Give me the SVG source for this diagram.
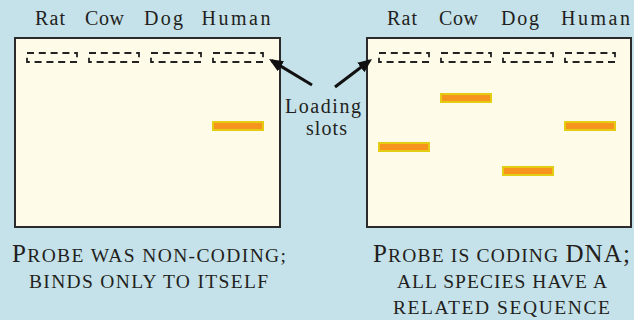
<svg xmlns="http://www.w3.org/2000/svg" width="634" height="320" viewBox="0 0 634 320">
<defs>
<style>
.bg{fill:#c5e2ea}
.gel{fill:#fffbe9;stroke:#2b2b2b;stroke-width:2}
.slot{fill:none;stroke:#222;stroke-width:1.8;stroke-dasharray:7 4.8}
.band{fill:#f7941d;stroke:#e3cc12;stroke-width:2}
text{font-family:'Liberation Serif',serif;fill:#231f20;text-anchor:middle}
.lbl{font-size:20px}
.cap{font-size:19.5px}
.big{font-size:25px}
.arrow{stroke:#111;stroke-width:3;fill:none;marker-end:url(#ah)}
</style>
<marker id="ah" markerUnits="userSpaceOnUse" markerWidth="15" markerHeight="13" refX="11" refY="6" orient="auto">
<path d="M0,0 L14,6 L0,12 z" fill="#111"/>
</marker>
</defs>
<rect class="bg" x="0" y="0" width="634" height="320"/>

<g id="gel-left">
<rect class="gel" x="15" y="38" width="265" height="189"/>
<rect class="slot" x="27" y="53" width="50" height="9"/>
<rect class="slot" x="89" y="53" width="50" height="9"/>
<rect class="slot" x="151" y="53" width="50" height="9"/>
<rect class="slot" x="213" y="53" width="50" height="9"/>
<rect class="band" x="213" y="122" width="50" height="8"/>
</g>
<g id="labels-left">
<text class="lbl" x="50" y="25" textLength="30">Rat</text>
<text class="lbl" x="104.5" y="25" textLength="39">Cow</text>
<text class="lbl" x="163.5" y="25" textLength="39">Dog</text>
<text class="lbl" x="236" y="25" textLength="69">Human</text>
</g>

<g id="gel-right">
<rect class="gel" x="367" y="38" width="264" height="189"/>
<rect class="slot" x="379" y="53" width="50" height="9"/>
<rect class="slot" x="441" y="53" width="50" height="9"/>
<rect class="slot" x="503" y="53" width="50" height="9"/>
<rect class="slot" x="565" y="53" width="50" height="9"/>
<rect class="band" x="379" y="143" width="50" height="8"/>
<rect class="band" x="441" y="94" width="50" height="8"/>
<rect class="band" x="503" y="167" width="50" height="8"/>
<rect class="band" x="565" y="122" width="50" height="8"/>
</g>
<g id="labels-right">
<text class="lbl" x="402" y="25" textLength="30">Rat</text>
<text class="lbl" x="458.5" y="25" textLength="39">Cow</text>
<text class="lbl" x="520" y="25" textLength="38">Dog</text>
<text class="lbl" x="595.5" y="25" textLength="69">Human</text>
</g>

<g id="loading-slots">
<text class="lbl" x="323" y="112.5" textLength="76">Loading</text>
<text class="lbl" x="326.5" y="135" textLength="41">slots</text>
</g>

<g id="connectors">
<line class="arrow" x1="312" y1="85" x2="271.6" y2="60.6"/>
<line class="arrow" x1="335" y1="87" x2="369.6" y2="60.8"/>
</g>

<g id="caption-left">
<text class="cap" x="149" y="262" textLength="274"><tspan class="big">P</tspan>ROBE WAS NON-CODING;</text>
<text class="cap" x="148.5" y="288" textLength="239">BINDS ONLY TO ITSELF</text>
</g>
<g id="caption-right">
<text class="cap" x="501.5" y="262" textLength="257"><tspan class="big">P</tspan>ROBE IS CODING <tspan class="big">DNA;</tspan></text>
<text class="cap" x="502" y="288" textLength="210">ALL SPECIES HAVE A</text>
<text class="cap" x="501.5" y="314" textLength="217">RELATED SEQUENCE</text>
</g>
</svg>
